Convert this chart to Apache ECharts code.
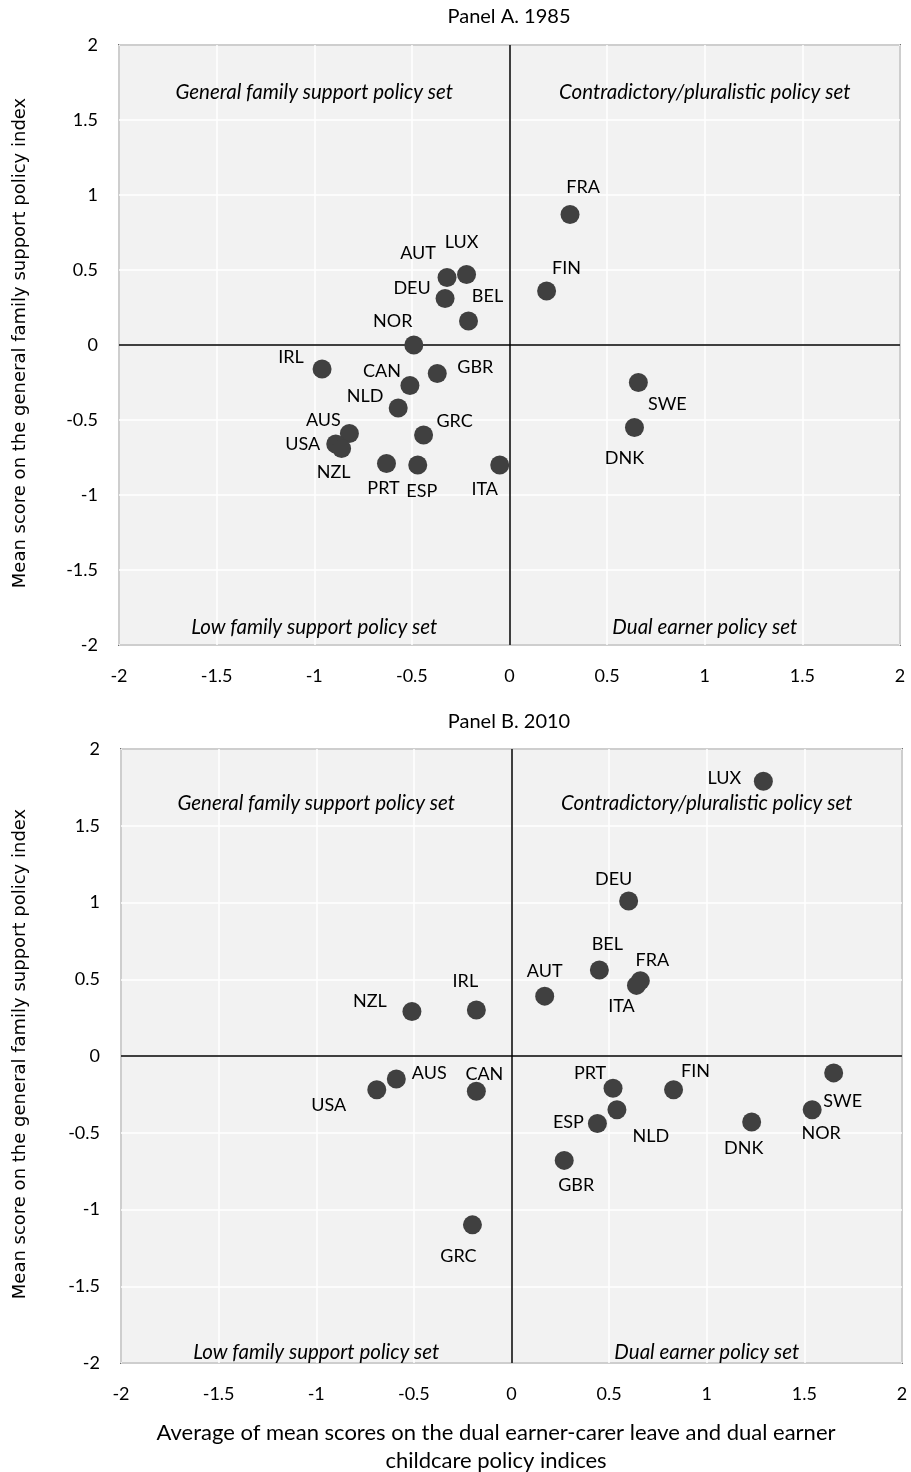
<!DOCTYPE html>
<html>
<head>
<meta charset="utf-8">
<script src="https://cdn.jsdelivr.net/npm/echarts@6/dist/echarts.min.js"></script>
<style>
  html, body { margin: 0; padding: 0; background: #ffffff; }
  #chart { width: 911px; height: 1472px; }
</style>
</head>
<body>
<div id="chart"></div>
<script>
// Panel A (1985)
const countriesA = ['FRA','FIN','LUX','AUT','DEU','BEL','NOR','IRL','CAN','GBR','NLD','AUS','USA','NZL','GRC','PRT','ESP','ITA','SWE','DNK'];
const dualEarnerA = [0.31, 0.19, -0.22, -0.32, -0.33, -0.21, -0.49, -0.96, -0.51, -0.37, -0.57, -0.82, -0.89, -0.86, -0.44, -0.63, -0.47, -0.05, 0.66, 0.64];
const generalFamilyA = [0.87, 0.36, 0.47, 0.45, 0.31, 0.16, 0.00, -0.16, -0.27, -0.19, -0.42, -0.59, -0.66, -0.69, -0.60, -0.79, -0.80, -0.80, -0.25, -0.55];

// Panel B (2010)
const countriesB = ['LUX','DEU','BEL','FRA','ITA','AUT','IRL','NZL','AUS','USA','CAN','GRC','PRT','NLD','ESP','GBR','FIN','DNK','SWE','NOR'];
const dualEarnerB = [1.29, 0.60, 0.45, 0.66, 0.64, 0.17, -0.18, -0.51, -0.59, -0.69, -0.18, -0.20, 0.52, 0.54, 0.44, 0.27, 0.83, 1.23, 1.65, 1.54];
const generalFamilyB = [1.79, 1.01, 0.56, 0.49, 0.46, 0.39, 0.30, 0.29, -0.15, -0.22, -0.23, -1.10, -0.21, -0.35, -0.44, -0.68, -0.22, -0.43, -0.11, -0.35];

// Axis ticks and texts
const axisMin = -2, axisMax = 2, axisStep = 0.5;
const panelTitles = ['Panel A. 1985', 'Panel B. 2010'];
const quadrantNames = ['General family support policy set', 'Contradictory/pluralistic policy set', 'Low family support policy set', 'Dual earner policy set'];
const yAxisTitle = 'Mean score on the general family support policy index';
const xAxisTitle = 'Average of mean scores on the dual earner-carer leave and dual earner\nchildcare policy indices';

// Label offsets (px) from each marker's centre
const labelOffsetA = {
  FRA:[13,-27], FIN:[20,-23], LUX:[-5,-32], AUT:[-29,-24], DEU:[-33,-10], BEL:[19,-25],
  NOR:[-21,-24], IRL:[-31,-12], CAN:[-28,-14], GBR:[38,-6], NLD:[-33,-12], AUS:[-26,-13],
  USA:[-33,0], NZL:[-8,24], GRC:[31,-14], PRT:[-3,25], ESP:[4,26], ITA:[-15,24],
  SWE:[29,22], DNK:[-10,31]
};
const labelOffsetB = {
  LUX:[-39,-3], DEU:[-15,-22], BEL:[8,-26], FRA:[12,-21], ITA:[-15,21], AUT:[0,-25],
  IRL:[-11,-29], NZL:[-42,-10], AUS:[33,-6], USA:[-48,15], CAN:[8,-17], GRC:[-14,31],
  PRT:[-23,-15], NLD:[34,26], ESP:[-29,-1], GBR:[12,25], FIN:[22,-19], DNK:[-8,26],
  SWE:[9,28], NOR:[9,23]
};

// Plot rectangles
const grids = [
  { left: 119, top: 45, width: 781, height: 600 },
  { left: 121, top: 749, width: 781, height: 614 }
];
const titleY = [17, 722];
const quadTopGap = [47, 54];
const quadBottomGap = [18, 11];

const textFont = 'Lato';
const dotColor = '#404040';

function makePoints(names, xs, ys, offsets) {
  return names.map((n, i) => ({
    value: [xs[i], ys[i]],
    name: n,
    label: { offset: offsets[n] }
  }));
}

function valueAxis(gi, isX) {
  return {
    type: 'value',
    gridIndex: gi,
    min: axisMin, max: axisMax, interval: axisStep,
    axisLine: { show: false },
    axisTick: { show: false },
    splitLine: { show: true, lineStyle: { color: '#ffffff', width: 1.5 } },
    axisLabel: {
      fontFamily: textFont, fontSize: 18, color: '#000000',
      margin: isX ? 22 : 21,
      formatter: v => String(v)
    }
  };
}

function scatterSeries(gi, data) {
  return {
    type: 'scatter',
    xAxisIndex: gi, yAxisIndex: gi,
    symbolSize: 19,
    itemStyle: { color: dotColor, opacity: 1 },
    label: {
      show: true, position: 'inside', formatter: '{b}',
      fontFamily: textFont, fontSize: 18, color: '#000000',
      align: 'center', verticalAlign: 'middle'
    },
    data: data,
    z: 3,
    markLine: {
      silent: true, symbol: 'none',
      lineStyle: { color: '#000000', width: 1.5, type: 'solid' },
      label: { show: false },
      data: [{ xAxis: 0 }, { yAxis: 0 }],
      z: 2
    }
  };
}

const graphics = [];
grids.forEach((g, gi) => {
  // panel title
  graphics.push({
    type: 'text', x: 509, y: titleY[gi],
    style: { text: panelTitles[gi], font: '20px Lato', fill: '#000000', align: 'center', verticalAlign: 'middle' }
  });
  // quadrant names
  const qx = [g.left + g.width / 4, g.left + 3 * g.width / 4];
  const topY = g.top + quadTopGap[gi];
  const botY = g.top + g.height - quadBottomGap[gi];
  [[qx[0], topY], [qx[1], topY], [qx[0], botY], [qx[1], botY]].forEach((p, qi) => {
    graphics.push({
      type: 'text', x: p[0], y: p[1],
      style: { text: quadrantNames[qi], font: 'italic 20.5px Lato', fill: '#000000', align: 'center', verticalAlign: 'middle' },
      z: 10
    });
  });
  // y axis title
  graphics.push({
    type: 'text', x: 20, y: g.top + g.height / 2 - 2, rotation: Math.PI / 2,
    style: { text: yAxisTitle, font: '18px "DejaVu Sans"', fill: '#000000', align: 'center', verticalAlign: 'middle' }
  });
});
// x axis title under the lower panel
graphics.push({
  type: 'text', x: 496, y: 1447,
  style: { text: xAxisTitle, font: '22px Lato', fill: '#000000', align: 'center', verticalAlign: 'middle', lineHeight: 28 }
});

const chart = echarts.init(document.getElementById('chart'), null, { renderer: 'canvas' });
chart.setOption({
  backgroundColor: '#ffffff',
  animation: false,
  grid: grids.map(g => Object.assign({
    show: true, backgroundColor: '#f2f2f2', borderColor: '#000000', borderWidth: 1.5, containLabel: false
  }, g)),
  xAxis: [valueAxis(0, true), valueAxis(1, true)],
  yAxis: [valueAxis(0, false), valueAxis(1, false)],
  series: [
    scatterSeries(0, makePoints(countriesA, dualEarnerA, generalFamilyA, labelOffsetA)),
    scatterSeries(1, makePoints(countriesB, dualEarnerB, generalFamilyB, labelOffsetB))
  ],
  graphic: graphics
});
</script>
</body>
</html>
